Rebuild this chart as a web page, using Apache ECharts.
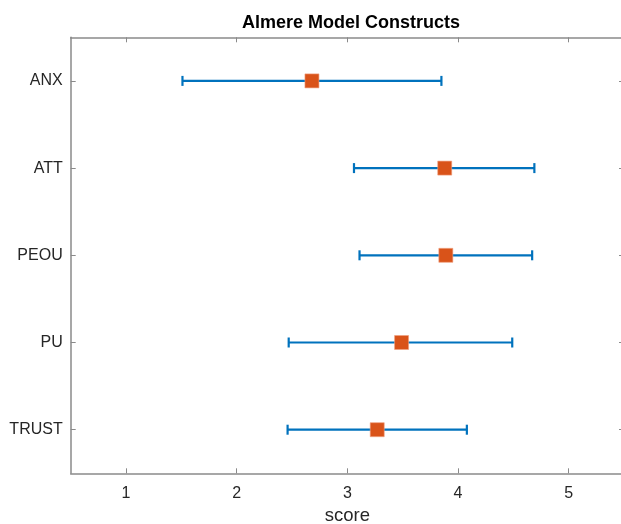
<!DOCTYPE html>
<html>
<head>
<meta charset="utf-8">
<script src="https://cdn.jsdelivr.net/npm/echarts@6/dist/echarts.min.js"></script>
<style>html,body{margin:0;padding:0;background:#fff;}#c{width:621px;height:524px;}</style>
</head>
<body>
<div id="c"></div>
<script>
const categories = ['ANX', 'ATT', 'PEOU', 'PU', 'TRUST'];
const means = [2.68, 3.88, 3.89, 3.49, 3.27];
const lows  = [1.51, 3.06, 3.11, 2.47, 2.46];
const highs = [3.85, 4.69, 4.67, 4.49, 4.08];
const xTicks = [1, 2, 3, 4, 5];

const chart = echarts.init(document.getElementById('c'), null, {renderer: 'canvas'});
const font = 'Arial, "Liberation Sans", Helvetica, sans-serif';
const axisCol = '#8a8a8a';
const txtCol = '#262626';

const errData = categories.map((c, i) => [lows[i], highs[i], i]);
const meanData = categories.map((c, i) => [means[i], i]);

const xBase = {
  type: 'value', min: 0.5, max: 5.5, interval: 1,
  axisLine: {show: true, lineStyle: {color: axisCol, width: 1.5}},
  axisTick: {show: true, inside: true, length: 5, lineStyle: {color: axisCol, width: 1}},
  splitLine: {show: false},
  axisLabel: {
    color: txtCol, fontFamily: font, fontSize: 16, margin: 12,
    customValues: xTicks,
    formatter: v => String(v)
  }
};

chart.setOption({
  animation: false,
  backgroundColor: '#fff',
  title: {
    text: 'Almere Model Constructs', left: 346, top: 9.5, textAlign: 'center',
    textStyle: {fontFamily: font, fontSize: 18, fontWeight: 'bold', color: '#000'}
  },
  grid: {left: 70.7, right: -3, top: 37.3, bottom: 50.7, containLabel: false, outerBoundsMode: 'none'},
  xAxis: [
    Object.assign({}, xBase, {
      position: 'bottom',
      axisTick: Object.assign({}, xBase.axisTick, {customValues: xTicks}),
      name: 'score', nameLocation: 'middle', nameGap: 33,
      nameTextStyle: {color: txtCol, fontFamily: font, fontSize: 18.5}
    }),
    Object.assign({}, xBase, {
      position: 'top',
      axisTick: Object.assign({}, xBase.axisTick, {customValues: xTicks}),
      axisLabel: {show: false}
    })
  ],
  yAxis: [
    {
      type: 'category', data: categories, inverse: true, position: 'left',
      axisLine: {show: true, lineStyle: {color: axisCol, width: 1.5}},
      axisTick: {show: true, inside: true, alignWithLabel: true, length: 5, lineStyle: {color: axisCol}},
      axisLabel: {color: txtCol, fontFamily: font, fontSize: 16, margin: 8, padding: [4, 0, 0, 0]},
      splitLine: {show: false}
    },
    {
      type: 'category', data: categories, inverse: true, position: 'right',
      axisLine: {show: true, lineStyle: {color: axisCol, width: 1.5}},
      axisTick: {show: true, inside: true, alignWithLabel: true, length: 5, lineStyle: {color: axisCol}},
      axisLabel: {show: false},
      splitLine: {show: false}
    }
  ],
  series: [
    {
      type: 'custom',
      xAxisIndex: 0, yAxisIndex: 0,
      data: errData,
      encode: {x: [0, 1], y: 2},
      renderItem: function (params, api) {
        const y = api.value(2);
        const p1 = api.coord([api.value(0), y]);
        const p2 = api.coord([api.value(1), y]);
        const h = 5;
        const st = {stroke: '#0072BD', lineWidth: 2.2};
        return {
          type: 'group',
          children: [
            {type: 'line', shape: {x1: p1[0], y1: p1[1], x2: p2[0], y2: p2[1]}, style: st},
            {type: 'line', shape: {x1: p1[0], y1: p1[1] - h, x2: p1[0], y2: p1[1] + h}, style: st},
            {type: 'line', shape: {x1: p2[0], y1: p2[1] - h, x2: p2[0], y2: p2[1] + h}, style: st}
          ]
        };
      },
      z: 2
    },
    {
      type: 'scatter',
      xAxisIndex: 0, yAxisIndex: 0,
      data: meanData,
      symbol: 'rect', symbolSize: 14,
      itemStyle: {color: '#D95319', borderColor: '#f0a080', borderWidth: 0.6, opacity: 1},
      z: 3
    }
  ]
});
</script>
</body>
</html>
